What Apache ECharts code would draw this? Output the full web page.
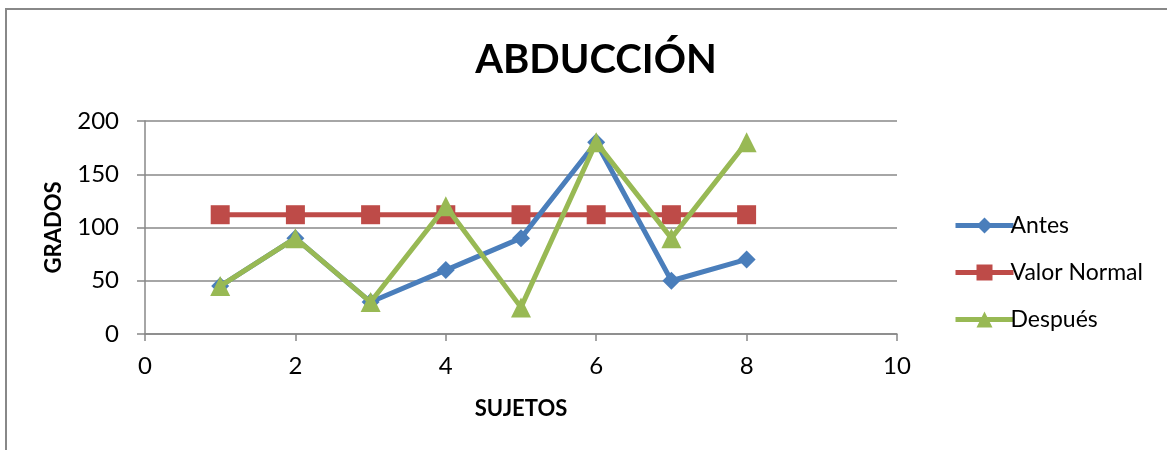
<!DOCTYPE html>
<html><head><meta charset="utf-8">
<script src="https://cdn.jsdelivr.net/npm/echarts@6/dist/echarts.min.js"></script>
<style>
html,body{margin:0;padding:0;background:#fff;}
#frame{position:absolute;left:5px;top:8px;width:1200px;height:500px;border-left:2px solid #888;border-top:2px solid #888;box-sizing:border-box;}
#c{position:absolute;left:0;top:0;width:1167px;height:450px;}
</style></head>
<body>
<div id="frame"></div>
<div id="c"></div>
<script>
const sujetos = [1, 2, 3, 4, 5, 6, 7, 8];
const antes = [45, 90, 30, 60, 90, 180, 50, 70];
const valorNormal = [112, 112, 112, 112, 112, 112, 112, 112];
const despues = [45, 90, 30, 120, 25, 180, 90, 180];
const pairs = (ys) => sujetos.map((x, i) => [x, ys[i]]);
const font = 'Lato, "Open Sans", sans-serif';
const chart = echarts.init(document.getElementById('c'));
chart.setOption({
  animation: false,
  title: {text: 'ABDUCCIÓN', left: 591, top: 35, textAlign: 'center',
    textStyle: {fontFamily: font, fontWeight: 'bold', fontSize: 40, color: '#000'}},
  grid: {left: 145, right: 1167 - 897, top: 121, bottom: 450 - 334},
  legend: {orient: 'vertical', left: 948, top: 209, itemGap: 24, itemWidth: 58, itemHeight: 20,
    lineStyle: {width: 5},
    textStyle: {fontFamily: font, fontSize: 23, color: '#000', padding: [0, 0, 0, -8]},
    data: ['Antes', 'Valor Normal', 'Después']},
  xAxis: {type: 'value', min: 0, max: 10, interval: 2,
    name: 'SUJETOS', nameLocation: 'middle', nameGap: 64,
    nameTextStyle: {fontFamily: font, fontWeight: 'bold', fontSize: 22, color: '#000'},
    axisLine: {show: true, lineStyle: {color: '#888', width: 1.5}},
    axisTick: {show: true, length: 7, lineStyle: {color: '#888', width: 1.5}},
    splitLine: {show: false},
    axisLabel: {fontFamily: font, fontSize: 24, color: '#000', margin: 20}},
  yAxis: {type: 'value', min: 0, max: 200, interval: 50,
    name: 'GRADOS', nameLocation: 'middle', nameGap: 80, nameRotate: 90,
    nameTextStyle: {fontFamily: font, fontWeight: 'bold', fontSize: 22, color: '#000'},
    axisLine: {show: true, lineStyle: {color: '#888', width: 1.5}},
    axisTick: {show: true, length: 8, lineStyle: {color: '#888', width: 1.5}},
    splitLine: {show: true, lineStyle: {color: '#888', width: 1.5}},
    axisLabel: {fontFamily: font, fontSize: 24, color: '#000', margin: 26}},
  series: [
    {name: 'Antes', type: 'line', data: pairs(antes), symbol: 'diamond', symbolSize: 18,
      lineStyle: {color: '#4a7ebb', width: 5}, itemStyle: {color: '#4a7ebb'}, z: 3},
    {name: 'Valor Normal', type: 'line', data: pairs(valorNormal), symbol: 'rect', symbolSize: 19,
      lineStyle: {color: '#be4b48', width: 5}, itemStyle: {color: '#be4b48'}, z: 2},
    {name: 'Después', type: 'line', data: pairs(despues), symbol: 'triangle', symbolSize: 20,
      lineStyle: {color: '#98b954', width: 5}, itemStyle: {color: '#98b954'}, z: 4}
  ]
});
</script>
</body></html>
